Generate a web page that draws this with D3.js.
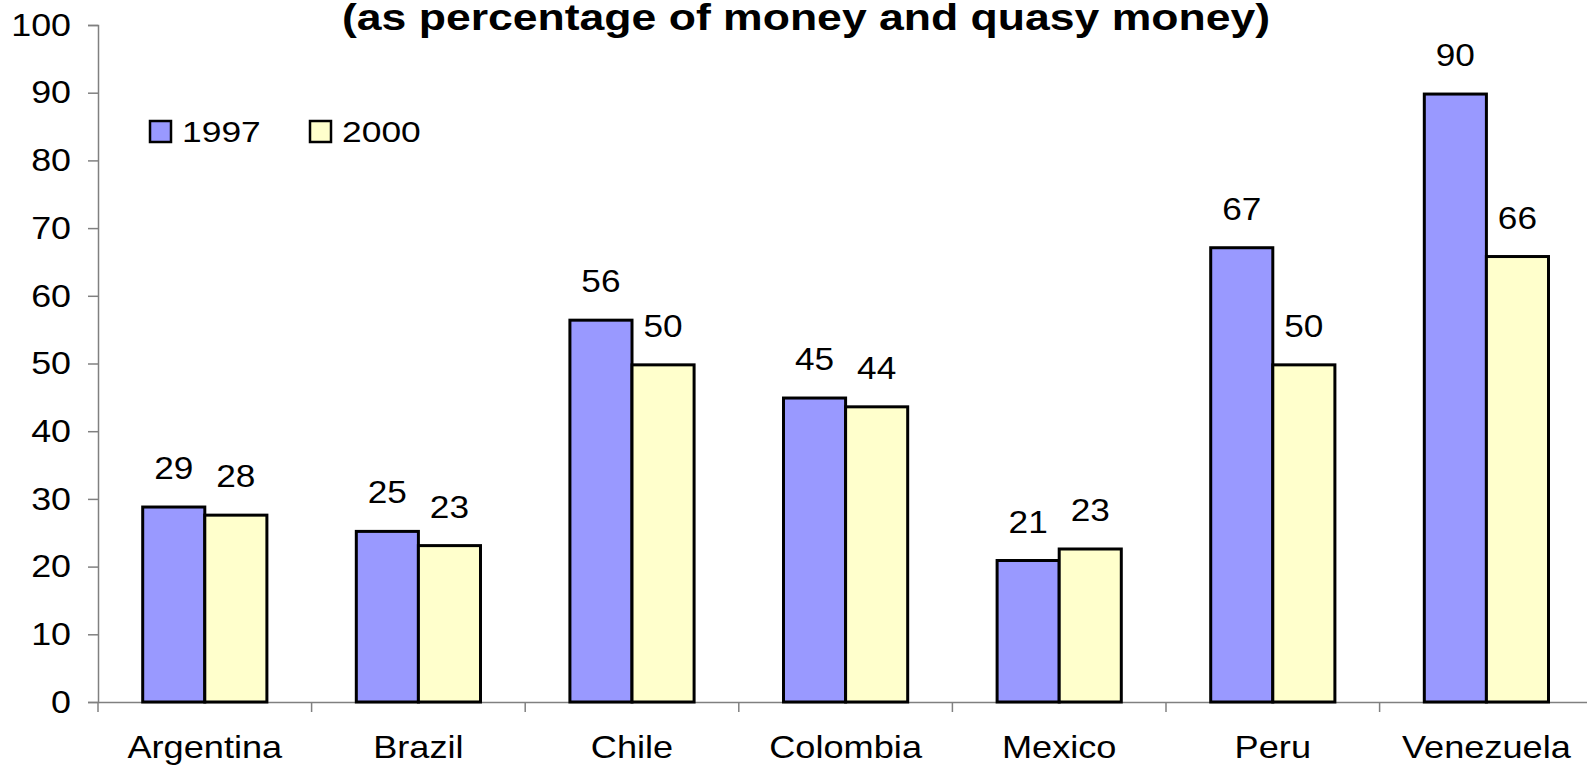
<!DOCTYPE html>
<html>
<head>
<meta charset="utf-8">
<script src="https://cdn.jsdelivr.net/npm/d3@7"></script>
<style>
  body { margin: 0; background: #fff; overflow: hidden; }
  text { font-family: "Liberation Sans", Arial, sans-serif; fill: #000; }
</style>
</head>
<body>
<svg id="chart" width="1587" height="766"></svg>
<script>
const countries = ["Argentina", "Brazil", "Chile", "Colombia", "Mexico", "Peru", "Venezuela"];
const seriesNames = ["1997", "2000"];
const values1997 = [28.8, 25.2, 56.4, 44.9, 20.9, 67.1, 89.8];
const values2000 = [27.6, 23.1, 49.8, 43.6, 22.6, 49.8, 65.8];
const yTicks = [0, 10, 20, 30, 40, 50, 60, 70, 80, 90, 100];
const titleText = "(as percentage of money and quasy money)";

const colours = { "1997": "#9999ff", "2000": "#ffffcc" };

const svg = d3.select('#chart');

const plotLeft = 98, plotTop = 25, plotBottom = 702;
const step = 213.6;

// the original text looks stretched sideways a bit
function widen(sel, k) {
  sel.each(function() {
    const w = this.getComputedTextLength();
    d3.select(this)
      .attr('textLength', w * k)
      .attr('lengthAdjust', 'spacingAndGlyphs');
  });
}

const x0 = d3.scaleBand()
  .domain(countries)
  .range([plotLeft, plotLeft + countries.length * step])
  .paddingInner(0)
  .paddingOuter(0);

const x1 = d3.scaleBand()
  .domain(seriesNames)
  .range([0, x0.bandwidth()])
  .paddingInner(0)
  .paddingOuter(0.72);

const y = d3.scaleLinear()
  .domain([0, 100])
  .range([plotBottom, plotTop]);

const rows = countries.map((c, i) => ({ country: c, "1997": values1997[i], "2000": values2000[i] }));

// y axis
const yAxis = svg.append('g')
  .attr('transform', `translate(${plotLeft},0)`)
  .call(d3.axisLeft(y).tickValues(yTicks).tickSize(10).tickPadding(17));
yAxis.select('.domain').attr('stroke', '#808080').attr('stroke-width', 1.5);
yAxis.selectAll('.tick line').attr('stroke', '#808080').attr('stroke-width', 1.5);
yAxis.selectAll('.tick text')
  .style('font-size', '32px')
  .style('font-family', '"Liberation Sans", Arial, sans-serif')
  .attr('fill', '#000')
  .call(widen, 1.12);

// x axis
const xAxis = svg.append('g')
  .attr('transform', `translate(0,${plotBottom})`)
  .call(d3.axisBottom(x0).tickSize(0).tickPadding(33));
xAxis.select('.domain').attr('stroke', '#808080').attr('stroke-width', 1.5);
xAxis.selectAll('.tick text')
  .style('font-size', '32px')
  .style('font-family', '"Liberation Sans", Arial, sans-serif')
  .attr('fill', '#000')
  .call(widen, 1.13);

// category separators
svg.append('g')
  .selectAll('line')
  .data(countries)
  .join('line')
  .attr('x1', d => x0(d))
  .attr('x2', d => x0(d))
  .attr('y1', plotBottom)
  .attr('y2', plotBottom + 10)
  .attr('stroke', '#808080')
  .attr('stroke-width', 1.5);

// bars
const groups = svg.append('g')
  .selectAll('g')
  .data(rows)
  .join('g')
  .attr('transform', d => `translate(${x0(d.country)},0)`);

groups.selectAll('rect')
  .data(d => seriesNames.map(s => ({ key: s, value: d[s] })))
  .join('rect')
  .attr('x', d => x1(d.key))
  .attr('y', d => y(d.value))
  .attr('width', x1.bandwidth())
  .attr('height', d => y(0) - y(d.value))
  .attr('fill', d => colours[d.key])
  .attr('stroke', '#000')
  .attr('stroke-width', 3);

groups.selectAll('text')
  .data(d => seriesNames.map(s => ({ key: s, value: d[s] })))
  .join('text')
  .attr('x', d => x1(d.key) + x1.bandwidth() / 2)
  .attr('y', d => y(d.value) - 28)
  .attr('text-anchor', 'middle')
  .style('font-size', '32px')
  .text(d => d3.format('.0f')(d.value))
  .call(widen, 1.1);

// title
svg.append('text')
  .attr('x', 806)
  .attr('y', 30)
  .attr('text-anchor', 'middle')
  .attr('textLength', 928)
  .attr('lengthAdjust', 'spacingAndGlyphs')
  .style('font-size', '36px')
  .style('font-weight', 'bold')
  .text(titleText);

// legend
const legend = svg.append('g');
const legendX = [150, 310];
seriesNames.forEach((s, i) => {
  legend.append('rect')
    .attr('x', legendX[i])
    .attr('y', 121)
    .attr('width', 21)
    .attr('height', 21)
    .attr('fill', colours[s])
    .attr('stroke', '#000')
    .attr('stroke-width', 2.5);
  legend.append('text')
    .attr('x', legendX[i] + 32)
    .attr('y', 142)
    .style('font-size', '30px')
    .text(s)
    .call(widen, 1.18);
});
</script>
</body>
</html>
